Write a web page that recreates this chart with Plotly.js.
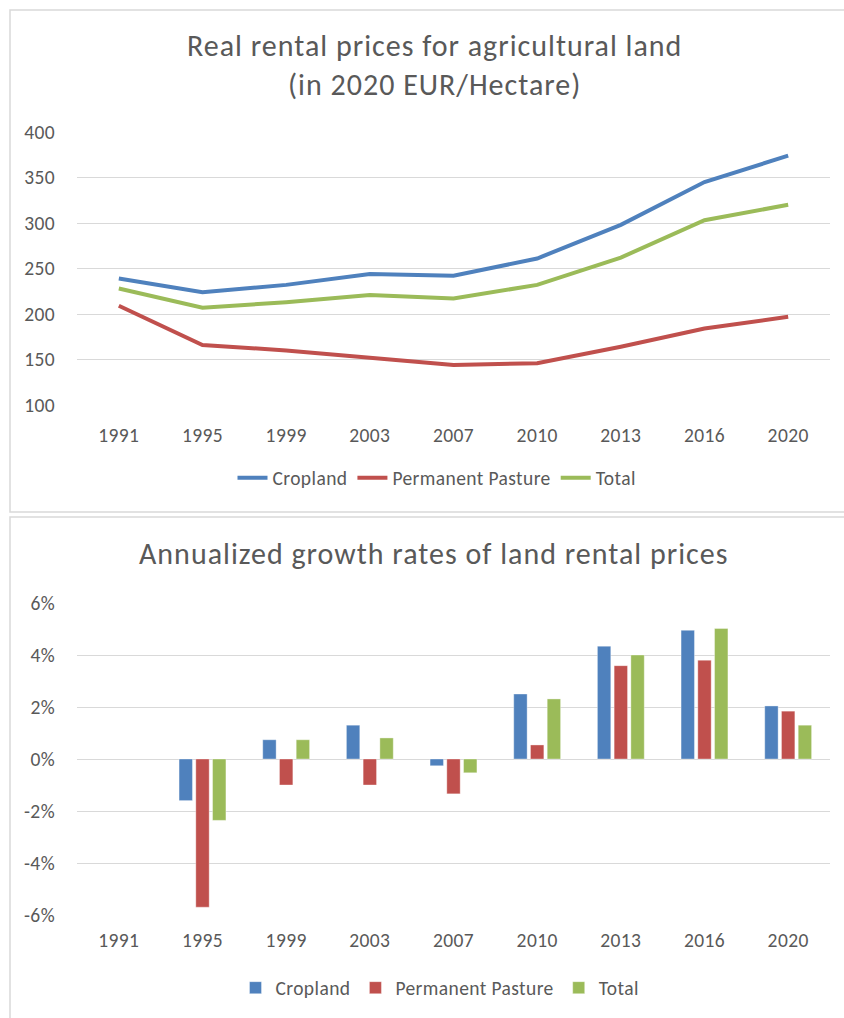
<!DOCTYPE html>
<html>
<head>
<meta charset="utf-8">
<script src="https://cdn.plot.ly/plotly-3.0.1.min.js"></script>
<style>
html,body{margin:0;padding:0;background:#fff;}
#chart{width:844px;height:1018px;}
text{letter-spacing:0.4px;}
.annotation-text{letter-spacing:1px;}
</style>
</head>
<body>
<div id="chart"></div>
<script>
// ---- data ----
const years = ['1991','1995','1999','2003','2007','2010','2013','2016','2020'];
const seriesNames = ['Cropland','Permanent Pasture','Total'];

// Real rental prices (2020 EUR / hectare)
const priceCropland = [239, 224, 232, 244, 242, 261, 298, 345, 374];
const pricePasture  = [209, 166, 160, 152, 144, 146, 164, 184, 197];
const priceTotal    = [228, 207, 213, 221, 217, 232, 262, 303, 320];

// Annualized growth rates (%)
const growthCropland = [null, -1.6, 0.74, 1.3, -0.26, 2.5, 4.34, 4.95, 2.04];
const growthPasture  = [null, -5.7, -1.0, -1.0, -1.34, 0.54, 3.59, 3.8, 1.84];
const growthTotal    = [null, -2.36, 0.74, 0.81, -0.53, 2.31, 4.0, 5.02, 1.3];

const priceTicks = [100, 150, 200, 250, 300, 350, 400];
const growthTicks = [-6, -4, -2, 0, 2, 4, 6];
const growthTickText = ['-6%', '-4%', '-2%', '0%', '2%', '4%', '6%'];

const titleTop = 'Real rental prices for agricultural land<br>(in 2020 EUR/Hectare)';
const titleBottom = 'Annualized growth rates of land rental prices';

// ---- styling ----
const colors = ['#4F81BD', '#C0504D', '#9BBB59'];
const FONT = 'Carlito, Calibri, "Open Sans", sans-serif';
const TXT = '#595959';
const GRID = '#D9D9D9';
const W = 844, H = 1018;
const px = v => v / W;
const py = v => 1 - v / H;

const prices = [priceCropland, pricePasture, priceTotal];
const growth = [growthCropland, growthPasture, growthTotal];

const traces = [];
prices.forEach((arr, i) => {
  traces.push({
    type: 'scatter', mode: 'lines', x: years, y: arr, name: seriesNames[i],
    line: {color: colors[i], width: 4}, xaxis: 'x', yaxis: 'y', legend: 'legend'
  });
});
growth.forEach((arr, i) => {
  traces.push({
    type: 'bar', x: years, y: arr, name: seriesNames[i],
    marker: {color: colors[i], line: {color: 'rgba(255,255,255,0.6)', width: 0.6}},
    xaxis: 'x2', yaxis: 'y2', legend: 'legend2'
  });
});

const TICKSIZE = 19.5;
const DOMX = [px(77), px(830)];
const xCommon = {
  type: 'category', range: [-0.5, 8.5], showgrid: false, zeroline: false,
  showline: false, ticks: '', tickfont: {family: FONT, size: TICKSIZE, color: TXT},
  fixedrange: true
};

const layout = {
  width: W, height: H,
  margin: {l: 0, r: 0, t: 0, b: 0},
  paper_bgcolor: '#fff', plot_bgcolor: '#fff',
  font: {family: FONT, color: TXT},
  barmode: 'group', bargap: 0.4, bargroupgap: 0.2,
  xaxis: Object.assign({}, xCommon, {domain: DOMX, anchor: 'y', ticklabelstandoff: 16}),
  yaxis: {
    domain: [py(405), py(132)], range: [100, 400], tickvals: priceTicks,
    showgrid: true, gridcolor: GRID, gridwidth: 1, zeroline: false, showline: false,
    ticks: '', ticklabelstandoff: 21, tickfont: {family: FONT, size: TICKSIZE, color: TXT}
  },
  xaxis2: Object.assign({}, xCommon, {domain: DOMX, anchor: 'y2', ticklabelstandoff: 11}),
  yaxis2: {
    domain: [py(915), py(603)], range: [-6, 6], tickvals: growthTicks, ticktext: growthTickText,
    showgrid: true, gridcolor: GRID, gridwidth: 1, zeroline: true, zerolinecolor: GRID, zerolinewidth: 1,
    showline: false, ticks: '', ticklabelstandoff: 21, tickfont: {family: FONT, size: TICKSIZE, color: TXT}
  },
  legend: {
    orientation: 'h', x: px(437), xanchor: 'center', y: py(478), yanchor: 'middle',
    font: {family: FONT, size: TICKSIZE, color: TXT}, bgcolor: 'rgba(0,0,0,0)'
  },
  legend2: {
    orientation: 'h', x: px(440), xanchor: 'center', y: py(988), yanchor: 'middle', itemwidth: 30,
    font: {family: FONT, size: TICKSIZE, color: TXT}, bgcolor: 'rgba(0,0,0,0)'
  },
  annotations: [
    {text: titleTop, xref: 'paper', yref: 'paper', x: px(434), y: py(65), xanchor: 'center', yanchor: 'middle',
     showarrow: false, font: {family: FONT, size: 30, color: TXT}},
    {text: titleBottom, xref: 'paper', yref: 'paper', x: px(433), y: py(553), xanchor: 'center', yanchor: 'middle',
     showarrow: false, font: {family: FONT, size: 30, color: TXT}}
  ],
  shapes: [
    {type: 'rect', xref: 'paper', yref: 'paper', x0: px(10), x1: px(860), y0: py(512), y1: py(10),
     line: {color: GRID, width: 1.5}, layer: 'below'},
    {type: 'rect', xref: 'paper', yref: 'paper', x0: px(10), x1: px(860), y0: py(1030), y1: py(517),
     line: {color: GRID, width: 1.5}, layer: 'below'}
  ]
};

Plotly.newPlot('chart', traces, layout, {displayModeBar: false, staticPlot: true});
</script>
</body>
</html>
